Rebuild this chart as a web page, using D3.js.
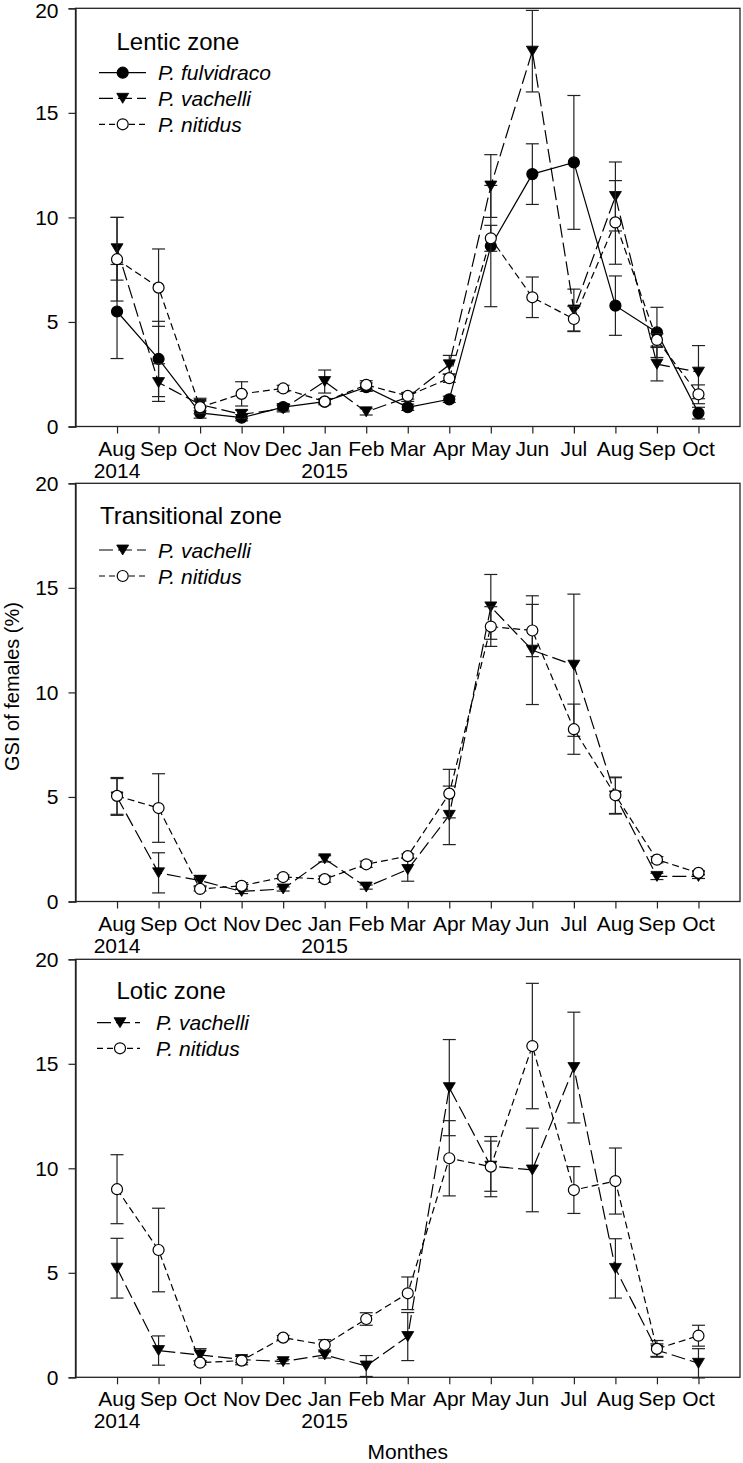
<!DOCTYPE html>
<html><head><meta charset="utf-8">
<script src="https://cdn.jsdelivr.net/npm/d3@7"></script>
<style>html,body{margin:0;padding:0;background:#fff;}svg{display:block;}</style>
</head><body>
<script>
// ---------- data ----------
const months = ["Aug","Sep","Oct","Nov","Dec","Jan","Feb","Mar","Apr","May","Jun","Jul","Aug","Sep","Oct"];
const years  = ["2014","","","","","2015","","","","","","","","",""];
const yTicks = [0,5,10,15,20];
const zones  = ["Lentic zone","Transitional zone","Lotic zone"];
const speciesNames = ["P. fulvidraco","P. vachelli","P. nitidus"];

// Lentic zone
const lenticFulvidraco    = [5.5,3.23,0.65,0.42,0.93,1.19,1.88,0.92,1.3,8.63,12.07,12.63,5.78,4.5,0.64];
const lenticFulvidracoErr = [2.25,1.8,0.25,0.15,0.15,0.1,0.2,0.15,0.15,2.9,1.45,3.2,1.42,1.2,0.28];
const lenticVachelli      = [8.5,2.1,1.05,0.58,0.85,2.15,0.7,1.4,2.95,11.5,17.95,5.57,11.0,2.98,2.6];
const lenticVachelliErr   = [1.5,0.9,0.3,0.2,0.15,0.55,0.15,0.2,0.45,1.5,1.95,1.0,1.65,0.8,1.27];
const lenticNitidus       = [8.0,6.64,0.92,1.56,1.82,1.19,1.99,1.46,2.31,9.0,6.18,5.14,9.76,4.14,1.54];
const lenticNitidusErr    = [2.0,1.85,0.3,0.58,0.15,0.15,0.2,0.15,0.2,0.62,0.97,0.6,2.0,0.3,0.45];

// Transitional zone
const transVachelli    = [5.0,1.37,1.0,0.48,0.6,2.04,0.69,1.53,4.12,14.09,12.02,11.3,5.05,1.2,1.2];
const transVachelliErr = [0.88,0.96,0.25,0.1,0.1,0.15,0.1,0.56,1.4,1.55,2.6,3.4,0.87,0.15,0.1];
const transNitidus     = [5.05,4.47,0.6,0.75,1.17,1.07,1.78,2.17,5.16,13.15,12.96,8.24,5.08,2.0,1.37];
const transNitidusErr  = [0.88,1.64,0.1,0.15,0.1,0.15,0.15,0.1,1.16,0.95,1.25,1.2,0.87,0.15,0.1];

// Lotic zone
const loticVachelli    = [5.22,1.28,1.07,0.85,0.75,1.07,0.54,1.95,13.86,10.1,9.92,14.82,5.21,1.3,0.67];
const loticVachelliErr = [1.43,0.7,0.3,0.15,0.1,0.15,0.5,1.15,2.3,1.2,2.0,2.65,1.42,0.3,0.7];
const loticNitidus     = [9.0,6.09,0.7,0.8,1.9,1.55,2.79,4.02,10.48,10.08,15.85,8.96,9.39,1.36,1.99];
const loticNitidusErr  = [1.65,2.0,0.1,0.2,0.1,0.25,0.3,0.78,1.8,1.44,3.0,1.12,1.58,0.4,0.5];

// ---------- layout / style ----------
const W = 743, H = 1463;
const left = 75.5, right = 740;
const FONT = "'Liberation Sans', Arial, sans-serif";
const styles = {
  "P. fulvidraco": {dash: null,   legDash: null,  marker: "circle", fill: "#000"},
  "P. vachelli":   {dash: "14,5", legDash: "14,5", marker: "tri",    fill: "#000"},
  "P. nitidus":    {dash: "7,4",  legDash: "6,4", marker: "circle", fill: "#fff"}
};
const panels = [
  {title: zones[0], top: 8.3, bottom: 426.5,
   series: [["P. fulvidraco", lenticFulvidraco, lenticFulvidracoErr],
            ["P. vachelli", lenticVachelli, lenticVachelliErr],
            ["P. nitidus", lenticNitidus, lenticNitidusErr]],
   leg: {tx: 41, ty: 33.4, rows: [64.4, 90, 116], lx0: 23.5, lx1: 70.5, mx: 47.2, textx: 82.5}},
  {title: zones[1], top: 483.3, bottom: 901.5,
   series: [["P. vachelli", transVachelli, transVachelliErr],
            ["P. nitidus", transNitidus, transNitidusErr]],
   leg: {tx: 24.5, ty: 31.7, rows: [66.7, 92.7], lx0: 23.5, lx1: 70.5, mx: 47.2, textx: 82.5}},
  {title: zones[2], top: 959.3, bottom: 1377.3,
   series: [["P. vachelli", loticVachelli, loticVachelliErr],
            ["P. nitidus", loticNitidus, loticNitidusErr]],
   leg: {tx: 41, ty: 31.4, rows: [63.4, 89], lx0: 21.5, lx1: 64.5, mx: 44.5, textx: 80.5}}
];

const svg = d3.select("body").append("svg").attr("width", W).attr("height", H)
  .style("font-family", FONT);

const x = d3.scaleLinear().domain([-1, 15]).range([left, right]);
const triPath = "M-6,-5L6,-5L0,5Z";

function drawMarker(g, name, cx, cy) {
  const st = styles[name];
  if (st.marker === "circle") {
    g.append("circle").attr("cx", cx).attr("cy", cy).attr("r", 5.5)
      .attr("fill", st.fill).attr("stroke", "#000").attr("stroke-width", 1.2);
  } else {
    g.append("path").attr("d", triPath).attr("transform", `translate(${cx},${cy})`)
      .attr("fill", "#000").attr("stroke", "#000").attr("stroke-width", 0.8);
  }
}

panels.forEach(p => {
  const y = d3.scaleLinear().domain([0, 20]).range([p.bottom, p.top]);
  const g = svg.append("g");

  // frame
  g.append("rect").attr("x", left).attr("y", p.top).attr("width", right - left)
    .attr("height", p.bottom - p.top).attr("fill", "none").attr("stroke", "#222").attr("stroke-width", 1.3);

  // y axis
  const ya = g.append("g").attr("transform", `translate(${left},0)`)
    .call(d3.axisLeft(y).tickValues(yTicks).tickSize(7).tickPadding(10).tickFormat(d3.format("d")));
  ya.select(".domain").attr("stroke", "#222").attr("stroke-width", 1.3);
  ya.selectAll(".tick line").attr("stroke", "#222").attr("stroke-width", 1.2);
  ya.selectAll("text").attr("font-size", 21).attr("font-family", FONT).attr("fill", "#000");
  // keep the top "20" label fully inside the page
  ya.selectAll(".tick text").filter(d => d === 20 && p.top < 10).attr("dy", "0.45em");

  // x axis
  const xa = g.append("g").attr("transform", `translate(0,${p.bottom})`)
    .call(d3.axisBottom(x).tickValues(d3.range(months.length)).tickSize(7).tickFormat(""));
  xa.select(".domain").remove();
  xa.selectAll(".tick line").attr("stroke", "#222").attr("stroke-width", 1.2);
  months.forEach((m, i) => {
    g.append("text").attr("x", x(i)).attr("y", p.bottom + 29).attr("text-anchor", "middle")
      .attr("font-size", 21).text(m);
    if (years[i]) g.append("text").attr("x", x(i)).attr("y", p.bottom + 51)
      .attr("text-anchor", "middle").attr("font-size", 21).text(years[i]);
  });

  // series
  const line = d3.line().x((d, i) => x(i)).y(d => y(d));
  p.series.forEach(([name, vals, errs]) => {
    const st = styles[name];
    const sg = g.append("g");
    // error bars
    vals.forEach((v, i) => {
      const cx = x(i), y1 = y(v + errs[i]), y0 = y(v - errs[i]);
      sg.append("line").attr("x1", cx).attr("x2", cx).attr("y1", y1).attr("y2", y0)
        .attr("stroke", "#222").attr("stroke-width", 1.2);
      [y1, y0].forEach(yy => sg.append("line").attr("x1", cx - 6.5).attr("x2", cx + 6.5)
        .attr("y1", yy).attr("y2", yy).attr("stroke", "#222").attr("stroke-width", 1.2));
    });
    sg.append("path").datum(vals).attr("d", line).attr("fill", "none")
      .attr("stroke", "#000").attr("stroke-width", 1.2)
      .attr("stroke-dasharray", st.dash);
    vals.forEach((v, i) => drawMarker(sg, name, x(i), y(v)));
  });

  // legend
  const L = p.leg;
  g.append("text").attr("x", left + L.tx).attr("y", p.top + L.ty).attr("dominant-baseline", "central")
    .attr("font-size", 24).text(p.title);
  p.series.forEach(([name], k) => {
    const st = styles[name];
    const ly = p.top + L.rows[k];
    g.append("line").attr("x1", left + L.lx0).attr("x2", left + L.lx1).attr("y1", ly).attr("y2", ly)
      .attr("stroke", "#000").attr("stroke-width", 1.2)
      .attr("stroke-dasharray", st.legDash);
    drawMarker(g, name, left + L.mx, ly);
    g.append("text").attr("x", left + L.textx).attr("y", ly).attr("dominant-baseline", "central")
      .attr("font-size", 21).attr("font-style", "italic").text(name);
  });
});

// axis titles
svg.append("text").attr("transform", "translate(12,686.5) rotate(-90)")
  .attr("text-anchor", "middle").attr("dominant-baseline", "central")
  .attr("font-size", 20).text("GSI of females (%)");
svg.append("text").attr("x", (left + right) / 2).attr("y", 1451).attr("text-anchor", "middle")
  .attr("dominant-baseline", "central").attr("font-size", 21).text("Monthes");
</script>
</body></html>
